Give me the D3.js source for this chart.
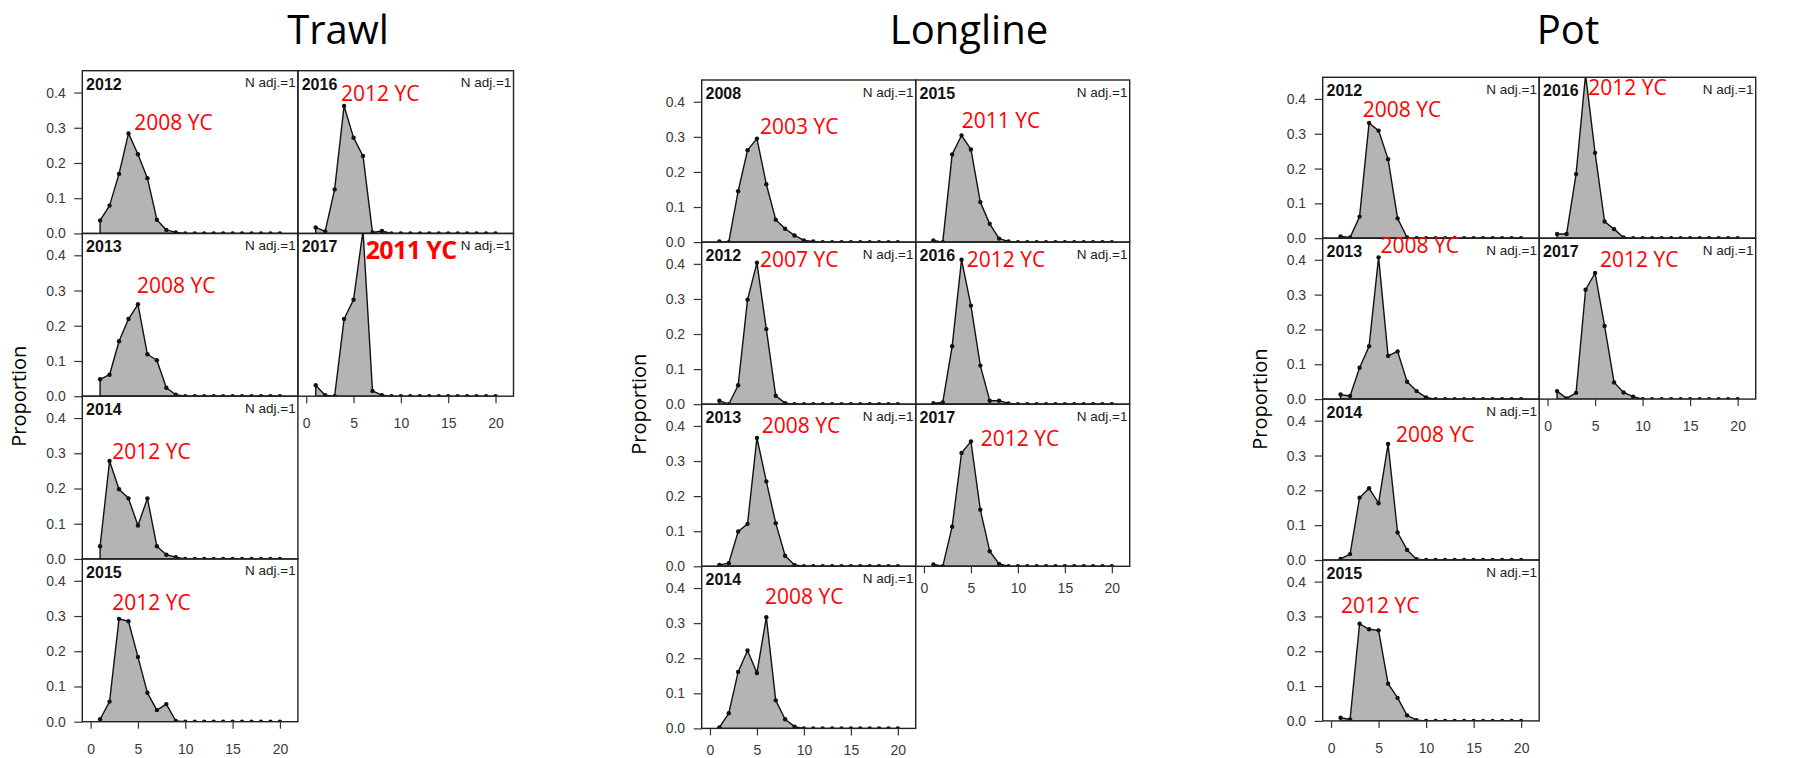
<!DOCTYPE html>
<html>
<head>
<meta charset="utf-8">
<script src="https://cdn.jsdelivr.net/npm/d3@7"></script>
<style>
  body { margin: 0; background: #fff; }
  .tick text { font-family: "Liberation Sans", Arial, sans-serif; font-size: 14px; fill: #3a3a3a; }
  .tick line { stroke: #333; stroke-width: 1.2; }
</style>
</head>
<body>
<div id="chart"></div>
<script>
// Age composition by gear, proportions at age 1..20
const ages = [1, 2, 3, 4, 5, 6, 7, 8, 9, 10, 11, 12, 13, 14, 15, 16, 17, 18, 19, 20];
const gears = ["Trawl", "Longline", "Pot"];

// panels are listed column by column (4 rows per column)
const trawlYears = [2012, 2013, 2014, 2015, 2016, 2017];
const trawlProps = [
    [0.037, 0.079, 0.169, 0.284, 0.225, 0.157, 0.039, 0.010, 0.003, 0, 0, 0, 0, 0, 0, 0, 0, 0, 0, 0],
    [0.048, 0.061, 0.156, 0.219, 0.261, 0.119, 0.102, 0.024, 0.004, 0, 0, 0, 0, 0, 0, 0, 0, 0, 0, 0],
    [0.036, 0.278, 0.198, 0.172, 0.095, 0.172, 0.036, 0.012, 0.005, 0, 0, 0, 0, 0, 0, 0, 0, 0, 0, 0],
    [0.007, 0.057, 0.292, 0.285, 0.184, 0.082, 0.033, 0.050, 0.002, 0, 0, 0, 0, 0, 0, 0, 0, 0, 0, 0],
    [0.017, 0.006, 0.125, 0.362, 0.272, 0.220, 0.003, 0.007, 0, 0, 0, 0, 0, 0, 0, 0, 0, 0, 0, 0],
    [0.031, 0.003, 0, 0.219, 0.274, 0.470, 0.015, 0.003, 0, 0, 0, 0, 0, 0, 0, 0, 0, 0, 0, 0]
];
const trawlNotes = ["2008 YC", "2008 YC", "2012 YC", "2012 YC", "2012 YC", "2011 YC"];
const trawlNoteAt = [[4.6, 0.294], [4.9, 0.294], [2.29, 0.283], [2.29, 0.317], [3.67, 0.376], [6.28, 0.389]];

const longlineYears = [2008, 2012, 2013, 2014, 2015, 2016, 2017];
const longlineProps = [
    [0.002, 0, 0.145, 0.262, 0.295, 0.165, 0.064, 0.038, 0.019, 0.005, 0.002, 0, 0, 0, 0, 0, 0, 0, 0, 0],
    [0.010, 0, 0.054, 0.298, 0.403, 0.214, 0.024, 0.003, 0, 0, 0, 0, 0, 0, 0, 0, 0, 0, 0, 0],
    [0.004, 0.009, 0.099, 0.121, 0.366, 0.242, 0.123, 0.030, 0.004, 0, 0, 0, 0, 0, 0, 0, 0, 0, 0, 0],
    [0.003, 0.043, 0.161, 0.222, 0.158, 0.317, 0.080, 0.026, 0.005, 0, 0, 0, 0, 0, 0, 0, 0, 0, 0, 0],
    [0.005, 0, 0.250, 0.304, 0.264, 0.114, 0.052, 0.010, 0.002, 0, 0, 0, 0, 0, 0, 0, 0, 0, 0, 0],
    [0.003, 0.005, 0.165, 0.412, 0.281, 0.110, 0.010, 0.010, 0.002, 0, 0, 0, 0, 0, 0, 0, 0, 0, 0, 0],
    [0.005, 0, 0.113, 0.323, 0.356, 0.161, 0.043, 0.007, 0, 0, 0, 0, 0, 0, 0, 0, 0, 0, 0, 0]
];
const longlineNotes = ["2003 YC", "2007 YC", "2008 YC", "2008 YC", "2011 YC", "2012 YC", "2012 YC"];
const longlineNoteAt = [[5.33, 0.308], [5.33, 0.392], [5.51, 0.379], [5.86, 0.354], [4.02, 0.324], [4.55, 0.392], [6.04, 0.343]];

const potYears = [2012, 2013, 2014, 2015, 2016, 2017];
const potProps = [
    [0.005, 0.002, 0.062, 0.331, 0.309, 0.227, 0.057, 0.002, 0, 0, 0, 0, 0, 0, 0, 0, 0, 0, 0, 0],
    [0.013, 0.009, 0.090, 0.152, 0.407, 0.124, 0.137, 0.050, 0.023, 0.005, 0, 0, 0, 0, 0, 0, 0, 0, 0, 0],
    [0.003, 0.017, 0.179, 0.206, 0.163, 0.333, 0.079, 0.029, 0.002, 0, 0, 0, 0, 0, 0, 0, 0, 0, 0, 0],
    [0.009, 0.004, 0.279, 0.263, 0.260, 0.107, 0.066, 0.016, 0.002, 0, 0, 0, 0, 0, 0, 0, 0, 0, 0, 0],
    [0.012, 0.012, 0.184, 0.470, 0.245, 0.048, 0.026, 0.002, 0, 0, 0, 0, 0, 0, 0, 0, 0, 0, 0, 0],
    [0.023, 0.002, 0.018, 0.314, 0.362, 0.210, 0.048, 0.019, 0.007, 0, 0, 0, 0, 0, 0, 0, 0, 0, 0, 0]
];
const potNotes = ["2008 YC", "2008 YC", "2008 YC", "2012 YC", "2012 YC", "2012 YC"];
const potNoteAt = [[3.33, 0.349], [5.21, 0.419], [6.83, 0.340], [1.05, 0.309], [4.29, 0.411], [5.52, 0.380]];

const yTicks = [0, 0.1, 0.2, 0.3, 0.4];
const xTicks = [0, 5, 10, 15, 20];

// the one label that is bold in the original slide
const boldNote = {gear: "Trawl", year: 2017};

const gearData = {
    Trawl: {years: trawlYears, props: trawlProps, notes: trawlNotes, noteAt: trawlNoteAt},
    Longline: {years: longlineYears, props: longlineProps, notes: longlineNotes, noteAt: longlineNoteAt},
    Pot: {years: potYears, props: potProps, notes: potNotes, noteAt: potNoteAt}
};

// where each block of panels sits on the page
const layout = {
    Trawl: {left: 82.3, top: 70.7, colW: 215.6, rowH: 162.75, titleX: 338, xPad: 15},
    Longline: {left: 701.7, top: 80, colW: 214, rowH: 162.1, titleX: 969, xPad: 9.5},
    Pot: {left: 1322.7, top: 77.3, colW: 216.5, rowH: 160.9, titleX: 1568, xPad: 15}
};
const rowsPerCol = 4;

const width = 1810;
const height = 758;

const svg = d3.select("#chart")
    .append("svg")
    .attr("width", width)
    .attr("height", height);

const defs = svg.append("defs");

gears.forEach(gear => {
    const L = layout[gear];
    const G = gearData[gear];
    const g = svg.append("g");

    // gear title
    g.append("text")
        .attr("x", L.titleX)
        .attr("y", 44)
        .attr("text-anchor", "middle")
        .style("font-family", "'Open Sans', sans-serif")
        .style("font-size", "40px")
        .style("fill", "#000")
        .text(gear);

    // y axis label
    const nRows = Math.min(rowsPerCol, G.years.length);
    g.append("text")
        .attr("transform", `translate(${L.left - 56}, ${L.top + nRows * L.rowH / 2}) rotate(-90)`)
        .attr("text-anchor", "middle")
        .style("font-family", "'Open Sans', sans-serif")
        .style("font-size", "20px")
        .style("fill", "#000")
        .text("Proportion");

    const colCount = [];
    G.years.forEach((yr, i) => {
        const col = Math.floor(i / rowsPerCol);
        colCount[col] = (colCount[col] || 0) + 1;
    });

    G.years.forEach((yr, i) => {
        const col = Math.floor(i / rowsPerCol);
        const row = i % rowsPerCol;
        const x0 = L.left + col * L.colW;
        const y0 = L.top + row * L.rowH;

        const x = d3.scaleLinear().domain([-0.88, 21.9]).range([x0, x0 + L.colW]);
        const y = d3.scaleLinear().domain([0, 0.462]).range([y0 + L.rowH, y0]);

        const clipId = `clip-${gear}-${yr}`;
        defs.append("clipPath").attr("id", clipId)
            .append("rect")
            .attr("x", x0).attr("y", y0)
            .attr("width", L.colW).attr("height", L.rowH);

        const pts = ages.map((a, k) => ({age: a, p: G.props[i][k]}));
        const panel = g.append("g");
        const inner = panel.append("g").attr("clip-path", `url(#${clipId})`);

        const area = d3.area()
            .x(d => x(d.age))
            .y0(y(0))
            .y1(d => y(d.p));

        inner.append("path")
            .datum(pts)
            .attr("d", area)
            .attr("fill", "#b4b4b4")
            .attr("stroke", "#111")
            .attr("stroke-width", 1.4)
            .attr("stroke-linejoin", "round");

        inner.selectAll("circle")
            .data(pts)
            .enter()
            .append("circle")
            .attr("cx", d => x(d.age))
            .attr("cy", d => y(d.p))
            .attr("r", 2.2)
            .attr("fill", "#111");

        // frame
        panel.append("rect")
            .attr("x", x0).attr("y", y0)
            .attr("width", L.colW).attr("height", L.rowH)
            .attr("fill", "none")
            .attr("stroke", "#222")
            .attr("stroke-width", 1.4);

        // year and weight labels
        panel.append("text")
            .attr("x", x0 + 3.8)
            .attr("y", y0 + 19)
            .style("font-family", "'Liberation Sans', Arial, sans-serif")
            .style("font-size", "16px")
            .style("font-weight", "bold")
            .style("fill", "#111")
            .text(yr);

        panel.append("text")
            .attr("x", x0 + L.colW - 2.2)
            .attr("y", y0 + 16.5)
            .attr("text-anchor", "end")
            .style("font-family", "'Liberation Sans', Arial, sans-serif")
            .style("font-size", "13.5px")
            .style("fill", "#222")
            .text("N adj.=1");

        // y axis on the first column only
        if (col === 0) {
            const ya = panel.append("g")
                .attr("transform", `translate(${x0}, 0)`)
                .call(d3.axisLeft(y).tickValues(yTicks).tickFormat(d3.format(".1f"))
                    .tickSize(8).tickPadding(8.6));
            ya.select(".domain").remove();
        }

        // x axis under the last panel of each column
        if (row === colCount[col] - 1) {
            const xa = panel.append("g")
                .attr("transform", `translate(0, ${y0 + L.rowH})`)
                .call(d3.axisBottom(x).tickValues(xTicks).tickSize(7).tickPadding(L.xPad));
            xa.select(".domain").remove();
        }

        // year-class annotation
        const isBold = gear === boldNote.gear && yr === boldNote.year;
        g.append("text")
            .attr("x", x(G.noteAt[i][0]))
            .attr("y", y(G.noteAt[i][1]))
            .style("font-family", "'Open Sans', sans-serif")
            .style("font-size", isBold ? "25px" : "21px")
            .style("font-weight", isBold ? "bold" : "normal")
            .style("letter-spacing", isBold ? "-0.6px" : "0px")
            .style("fill", "#ff0000")
            .text(G.notes[i]);
    });
});
</script>
</body>
</html>
